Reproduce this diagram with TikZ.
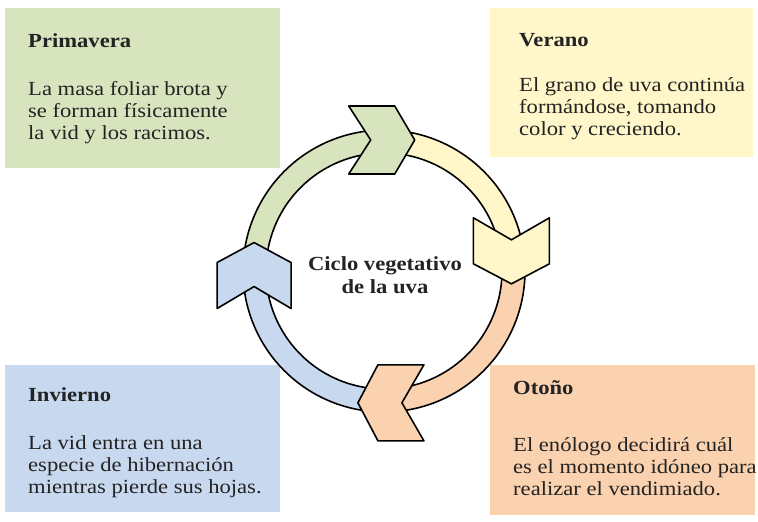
\documentclass[tikz,border=0pt]{standalone}
\usepackage{fontspec}
\setmainfont{Liberation Serif}[FakeStretch=1.13]
\usepackage{tikz}

\definecolor{springgreen}{RGB}{216,228,190}
\definecolor{summeryellow}{RGB}{255,247,201}
\definecolor{autumnpeach}{RGB}{251,210,176}
\definecolor{winterblue}{RGB}{200,216,238}
\definecolor{inkgray}{RGB}{35,35,35}

% chevron: fill colour, position, rotation, half width
\newcommand{\chevron}[4]{%
  \draw[chevline, fill=#1, shift={#2}, rotate=#3]
    (-33,#4) -- (13,#4) -- (33,0) -- (13,-#4) -- (-33,-#4) -- (-11,0) -- cycle;}

\begin{document}
\begin{tikzpicture}[x=1pt, y=1pt, line join=round,
  season/.style={anchor=base west, inner sep=0pt, text=inkgray,
    font=\fontsize{20}{22}\selectfont\bfseries},
  blurb/.style={anchor=base west, inner sep=0pt, align=left, text=inkgray,
    font=\fontsize{20}{22}\selectfont},
  ringline/.style={draw=black, line width=1.6pt},
  chevline/.style={draw=black, line width=1.6pt}]
\useasboundingbox (0,0) rectangle (758,522);

% the four season boxes
\fill[springgreen] (5,354) rectangle (280,514);
\fill[summeryellow] (490,365) rectangle (753,514);
\fill[winterblue] (5,10) rectangle (280,157);
\fill[autumnpeach] (490,7) rectangle (755,157);

% base of a blurb is its last line
\node[season] (spring) at (28,474) {Primavera};
\node[blurb] (springtext) at (28,382) {La masa foliar brota y\\se forman físicamente\\la vid y los racimos.};

\node[season] (summer) at (519,475) {Verano};
\node[blurb] (summertext) at (519,386) {El grano de uva continúa\\formándose, tomando\\color y creciendo.};

\node[season] (winter) at (28,120) {Invierno};
\node[blurb] (wintertext) at (28,28) {La vid entra en una\\especie de hibernación\\mientras pierde sus hojas.};

\node[season] (autumn) at (513,127) {Otoño};
\node[blurb] (autumntext) at (513,26) {El enólogo decidirá cuál\\es el momento idóneo para\\realizar el vendimiado.};

% the cycle
\begin{scope}[shift={(384,251)}]
  \draw[ringline, fill=springgreen] (182:141pt) arc[start angle=182, end angle=91, radius=141pt]
    -- (91:118pt) arc[start angle=91, end angle=182, radius=118pt] -- cycle;
  \draw[ringline, fill=summeryellow] (91:141pt) arc[start angle=91, end angle=9, radius=141pt]
    -- (9:118pt) arc[start angle=9, end angle=91, radius=118pt] -- cycle;
  \draw[ringline, fill=autumnpeach] (9:141pt) arc[start angle=9, end angle=-87, radius=141pt]
    -- (-87:118pt) arc[start angle=-87, end angle=9, radius=118pt] -- cycle;
  \draw[ringline, fill=winterblue] (-87:141pt) arc[start angle=-87, end angle=-178, radius=141pt]
    -- (-178:118pt) arc[start angle=-178, end angle=-87, radius=118pt] -- cycle;

  \chevron{springgreen}{(91:131pt)}{0}{34}
  \chevron{summeryellow}{(9:129pt)}{-90}{38}
  \chevron{autumnpeach}{(-87:132pt)}{180}{38}
  \chevron{winterblue}{(182:130pt)}{90}{37}

  \node[align=center, text=inkgray, font=\fontsize{20}{23}\selectfont\bfseries]
    (cycle) at (1,-4) {Ciclo vegetativo\\de la uva};
\end{scope}
\end{tikzpicture}
\end{document}
